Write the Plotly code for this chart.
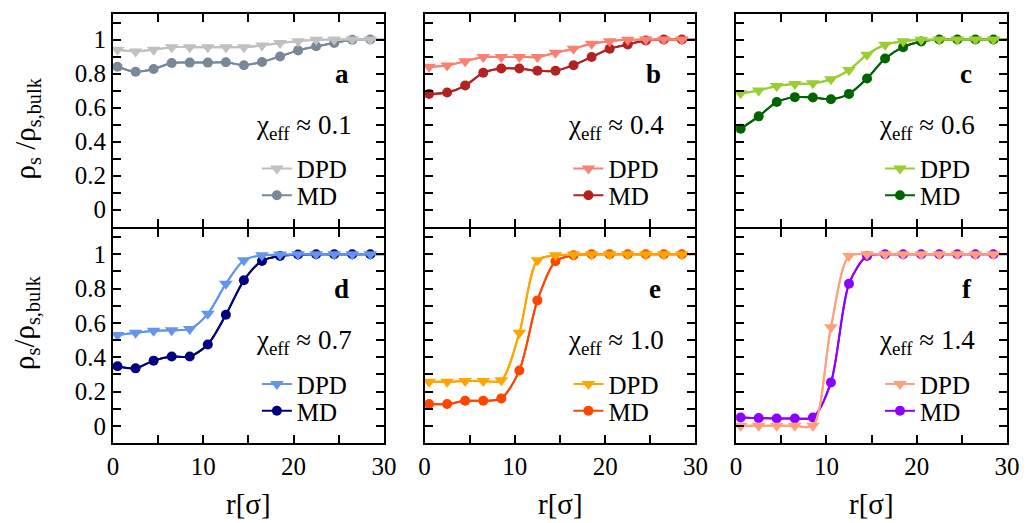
import plotly.graph_objects as go

# ---------------- data ----------------
r = [0.5, 2.5, 4.5, 6.5, 8.5, 10.5, 12.5, 14.5, 16.5, 18.5, 20.5, 22.5, 24.5, 26.5, 28.5]
r_edge = 30.0

dpd_a = [0.94, 0.93, 0.94, 0.955, 0.955, 0.955, 0.955, 0.955, 0.965, 0.98, 0.99, 0.998, 1.0, 1.0, 1.0]
md_a = [0.84, 0.81, 0.826, 0.862, 0.864, 0.864, 0.866, 0.849, 0.868, 0.90, 0.936, 0.96, 0.98, 0.998, 1.0]
dpd_b = [0.84, 0.847, 0.872, 0.897, 0.897, 0.897, 0.897, 0.922, 0.946, 0.975, 0.99, 0.998, 1.0, 1.0, 1.0]
md_b = [0.68, 0.688, 0.729, 0.804, 0.829, 0.829, 0.816, 0.816, 0.849, 0.897, 0.946, 0.971, 0.994, 1.0, 1.0]
dpd_c = [0.684, 0.70, 0.727, 0.738, 0.742, 0.766, 0.82, 0.911, 0.969, 0.99, 0.998, 1.0, 1.0, 1.0, 1.0]
md_c = [0.475, 0.548, 0.632, 0.661, 0.659, 0.649, 0.68, 0.771, 0.888, 0.955, 0.988, 1.0, 1.0, 1.0, 1.0]
dpd_d = [0.53, 0.542, 0.554, 0.557, 0.565, 0.653, 0.828, 0.965, 0.994, 0.998, 1.0, 1.0, 1.0, 1.0, 1.0]
md_d = [0.347, 0.335, 0.38, 0.404, 0.404, 0.474, 0.647, 0.848, 0.961, 0.99, 0.998, 1.0, 1.0, 1.0, 1.0]
dpd_e = [0.257, 0.257, 0.261, 0.261, 0.265, 0.542, 0.965, 0.994, 0.998, 1.0, 1.0, 1.0, 1.0, 1.0, 1.0]
md_e = [0.127, 0.127, 0.146, 0.146, 0.16, 0.322, 0.731, 0.959, 0.994, 1.0, 1.0, 1.0, 1.0, 1.0, 1.0]
dpd_f = [0.0, 0.0, 0.0, 0.0, 0.0, 0.575, 0.99, 1.0, 1.0, 1.0, 1.0, 1.0, 1.0, 1.0, 1.0]
md_f = [0.049, 0.045, 0.043, 0.043, 0.049, 0.253, 0.828, 0.99, 1.0, 1.0, 1.0, 1.0, 1.0, 1.0, 1.0]

letters = ["a", "b", "c", "d", "e", "f"]
chi_values = ["0.1", "0.4", "0.6", "0.7", "1.0", "1.4"]
dpd_colors = ["#c0c0c0", "#fa8072", "#9acd32", "#6495ed", "#ffa500", "#ffa07a"]
md_colors = ["#778899", "#b22222", "#006400", "#000080", "#ff4500", "#8b00ff"]
dpd_series = [dpd_a, dpd_b, dpd_c, dpd_d, dpd_e, dpd_f]
md_series = [md_a, md_b, md_c, md_d, md_e, md_f]

# ---------------- layout geometry ----------------
W, H = 1032, 523
ML, MR, MT, MB = 113, 18, 13, 80
PW = W - ML - MR
PH = H - MT - MB
col_px = [(113, 386), (427, 700), (741, 1014)]
col_dom = [((a - ML) / PW, (b - ML) / PW) for a, b in col_px]
row_dom = [(0.5 + 2 / PH, 1.0), (0.0, 0.5)]
row_top_px = [MT, 228]

FONT = "Liberation Serif, Times New Roman, serif"
FS = 25


def py(px):
    return (H - MB - px) / PH


def pxx(px):
    return (px - ML) / PW


fig = go.Figure()

for i in range(6):
    n = i + 1
    row, col = divmod(i, 3)
    xa = "x" if n == 1 else f"x{n}"
    ya = "y" if n == 1 else f"y{n}"

    entries = [
        (md_series[i], md_colors[i], "circle", 10, "MD", 2 * i + 2, 182),
        (dpd_series[i], dpd_colors[i], "triangle-down", 12, "DPD", 2 * i + 1, 155),
    ]
    for ys, color, sym, size, name, legno, yoff in entries:
        leg = "legend" if legno == 1 else f"legend{legno}"
        fig.add_trace(go.Scatter(
            x=r + [r_edge], y=ys + [ys[-1]], mode="lines",
            line=dict(color=color, width=2, shape="spline", smoothing=0.8),
            xaxis=xa, yaxis=ya, showlegend=False, hoverinfo="skip"))
        fig.add_trace(go.Scatter(
            x=r, y=ys, mode="lines+markers", name=name,
            line=dict(color=color, width=2, shape="spline", smoothing=0.8),
            marker=dict(symbol=sym, size=size, color=color, line=dict(width=0)),
            xaxis=xa, yaxis=ya, legend=leg))
        fig.layout[leg] = dict(
            x=pxx(col_px[col][0] + 145),
            y=py(row_top_px[row] + yoff + row),
            xanchor="left", yanchor="middle", bgcolor="rgba(0,0,0,0)",
            font=dict(family=FONT, size=FS, color="black"),
            itemwidth=30, tracegroupgap=0)

    axis_common = dict(
        ticks="inside", ticklen=8, tickwidth=1.5, tickcolor="black",
        showline=True, linecolor="black", linewidth=2, mirror="ticks",
        showgrid=False, zeroline=False,
        tickfont=dict(family=FONT, size=FS, color="black"))

    fig.layout[f"xaxis{'' if n == 1 else n}"] = dict(
        axis_common, domain=list(col_dom[col]), range=[0, 30], anchor=ya,
        tickmode="linear", tick0=0, dtick=10,
        minor=dict(tickmode="linear", tick0=0, dtick=5, ticks="inside",
                   ticklen=8, tickwidth=1.5, tickcolor="black", showgrid=False),
        showticklabels=(row == 1))
    fig.layout[f"yaxis{'' if n == 1 else n}"] = dict(
        axis_common, domain=list(row_dom[row]), range=[-0.1, 1.15], anchor=xa,
        tickmode="linear", tick0=0, dtick=0.2,
        minor=dict(tickmode="linear", tick0=0, dtick=0.1, ticks="inside",
                   ticklen=8, tickwidth=1.5, tickcolor="black", showgrid=False),
        showticklabels=(col == 0))

    fig.add_annotation(
        text=f"<b>{letters[i]}</b>", xref=f"{xa} domain", yref=f"{ya} domain",
        x=0.88, y=0.72, xanchor="right", yanchor="middle", showarrow=False,
        font=dict(family=FONT, size=27, color="black"))
    fig.add_annotation(
        text=f"χ<sub>eff</sub> ≈ {chi_values[i]}", xref=f"{xa} domain", yref=f"{ya} domain",
        x=0.89, y=0.47, xanchor="right", yanchor="middle", showarrow=False,
        font=dict(family=FONT, size=27, color="black"))

# axis titles
for txt, ypx in [("ρ<sub>s</sub> /ρ<sub>s,bulk</sub>", 128), ("ρ<sub>s</sub>/ρ<sub>s,bulk</sub>", 322)]:
    fig.add_annotation(
        text=txt, xref="paper", yref="paper", x=pxx(26), y=py(ypx), textangle=-90,
        xanchor="center", yanchor="middle", showarrow=False,
        font=dict(family=FONT, size=29, color="black"))
for col in range(3):
    fig.add_annotation(
        text="r[σ]", xref=f"x{col + 4} domain", yref="paper", x=0.5,
        y=py(504), xanchor="center", yanchor="middle", showarrow=False,
        font=dict(family=FONT, size=29, color="black"))

fig.update_layout(
    width=W, height=H, margin=dict(l=ML, r=MR, t=MT, b=MB),
    paper_bgcolor="white", plot_bgcolor="white",
    font=dict(family=FONT, color="black"))

fig.write_html("out.html")
